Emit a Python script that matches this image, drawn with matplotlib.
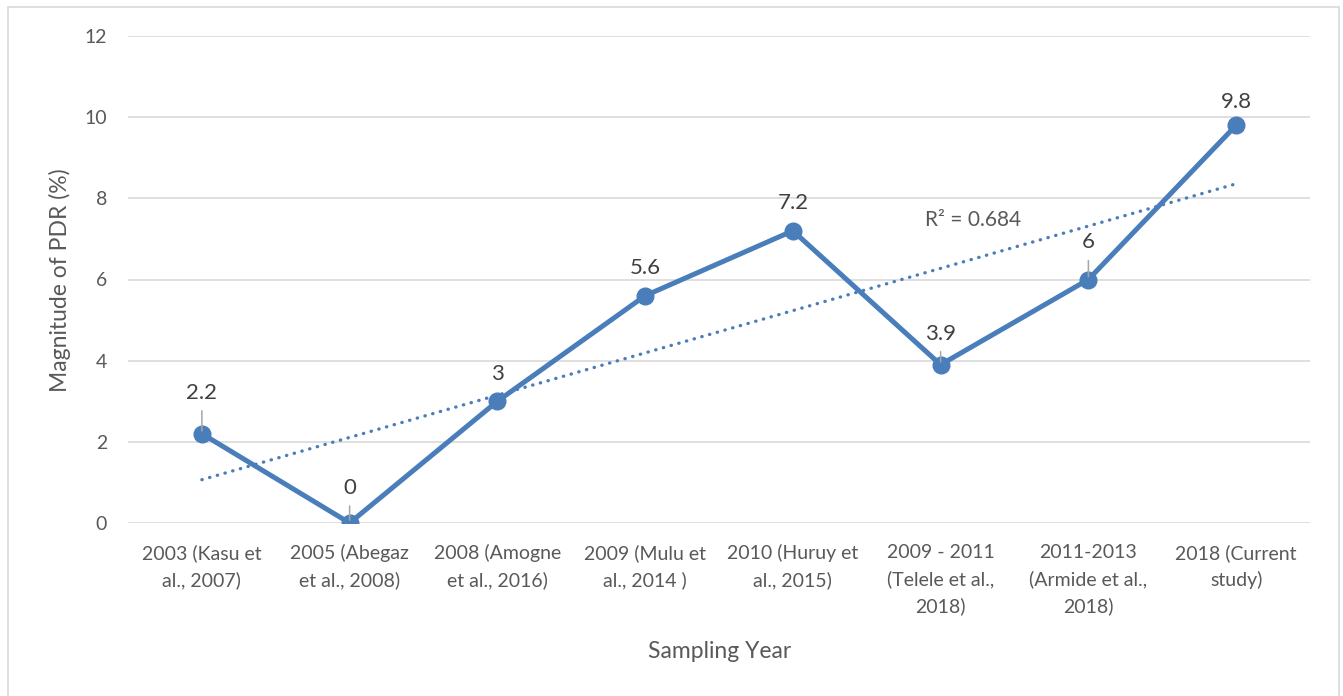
import numpy as np
import matplotlib.pyplot as plt
from matplotlib.patches import Rectangle

plt.rcParams['font.family'] = ['Lato', 'DejaVu Sans']

categories = [
    "2003 (Kasu et\nal., 2007)",
    "2005 (Abegaz\net al., 2008)",
    "2008 (Amogne\net al., 2016)",
    "2009 (Mulu et\nal., 2014 )",
    "2010 (Huruy et\nal., 2015)",
    "2009 - 2011\n(Telele et al.,\n2018)",
    "2011-2013\n(Armide et al.,\n2018)",
    "2018 (Current\nstudy)",
]
pdr = [2.2, 0, 3, 5.6, 7.2, 3.9, 6, 9.8]

# label offsets above each point (px) and which labels get a leader line
label_off = [41, 35, 27, 28, 28, 31, 37, 23]
leader = [True, True, False, False, False, True, True, False]

blue = '#4A7EBB'
x = np.arange(len(pdr))

fig = plt.figure(figsize=(13.43, 6.96), dpi=100)
ax = fig.add_axes([128 / 1343, 1 - 523 / 696, 1182 / 1343, 487 / 696])

# linear trend and its R²
slope, icpt = np.polyfit(x, pdr, 1)
fit = slope * x + icpt
r2 = 1 - np.sum((np.array(pdr) - fit) ** 2) / np.sum((np.array(pdr) - np.mean(pdr)) ** 2)

ax.plot(x, pdr, color=blue, lw=3.6, marker='o', ms=12, zorder=3, solid_capstyle='round')
ax.plot(x, fit, color=blue, lw=2.4, linestyle=(0, (0.1, 2.3)), dash_capstyle='round', zorder=2)
ax.text(5.22, 7.46, f"R² = {r2:.3f}", ha='center', va='center', fontsize=15, color='#595959')

px = 72 / 100
for i, v in enumerate(pdr):
    ax.annotate(f"{v:g}", xy=(i, v), xytext=(0, label_off[i] * px), textcoords='offset points',
                ha='center', va='center', fontsize=16, color='#404040', zorder=5)
    if leader[i]:
        ax.annotate('', xy=(i, v), xytext=(0, (label_off[i] - 18) * px), textcoords='offset points',
                    arrowprops=dict(arrowstyle='-', color='#A6A6A6', lw=1.1, shrinkA=0, shrinkB=2),
                    zorder=4)

ax.set_xlim(-0.5, 7.5)
ax.set_ylim(0, 12)
ax.set_yticks(range(0, 13, 2))
ax.set_xticks(x)
ax.set_xticklabels(categories, linespacing=1.62)
ax.tick_params(axis='both', length=0, labelsize=14, labelcolor='#595959')
ax.tick_params(axis='y', pad=15)
ax.tick_params(axis='x', pad=15)
ax.grid(axis='y', color='#D9D9D9', lw=1.2)
ax.set_axisbelow(True)
for s in ax.spines.values():
    s.set_visible(False)

fig.text(60 / 1343, 1 - 280 / 696, "Magnitude of PDR (%)", rotation=90, ha='center', va='center',
         fontsize=16.5, color='#595959')
fig.text(720 / 1343, 1 - 652 / 696, "Sampling Year", ha='center', va='center',
         fontsize=16.5, color='#595959')

# chart frame
fig.patches.append(Rectangle((8 / 1343, -0.05), 1331 / 1343, 1.05 - 7 / 696,
                             transform=fig.transFigure, fill=False, ec='#D9D9D9', lw=1.2))

fig.savefig('out.png', dpi=100)
